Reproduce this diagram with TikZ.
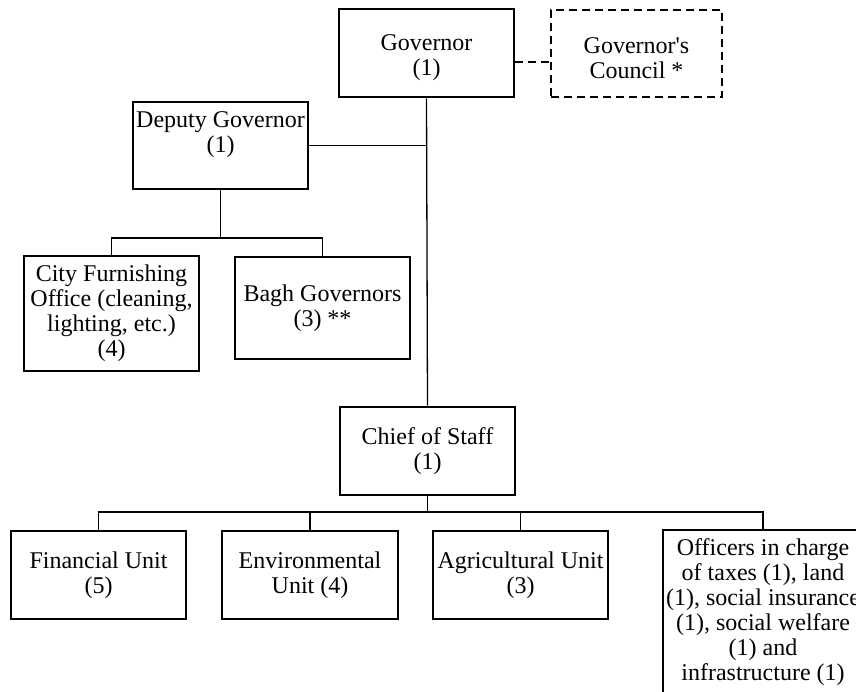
\documentclass[tikz,border=0pt]{standalone}
\usepackage{fontspec}
\setmainfont{Liberation Serif}
\begin{document}
\begin{tikzpicture}[x=1pt,y=-1pt,
  box/.style={draw, line width=2.6pt, minimum width=175pt, minimum height=88pt, inner sep=0pt, align=center, font=\fontsize{24}{25}\selectfont},
  txt/.style={inner sep=0pt, align=center, font=\fontsize{24}{25}\selectfont},
  link/.style={line width=1.3pt},
  dashlink/.style={line width=2pt, dash pattern=on 8pt off 5pt}]
\clip (0,0) rectangle (856,691);
% top
\node[box] (gov) at (426.5,53) {};
\node[txt] (govtxt) at (426.5,58) {Governor\\(1)};
\node[box, dash pattern=on 8pt off 5pt, minimum width=171pt, minimum height=87pt] (council) at (636.5,53.5) {};
\node[txt] (counciltxt) at (636.5,58) {Governor\textquotesingle s\\Council *};
\node[box, minimum height=87pt] (dep) at (220.5,145.5) {};
\node[txt] (deptxt) at (220.5,134.5) {Deputy Governor\\(1)};
\node[box, minimum height=115pt] (city) at (111.5,313.5) {City Furnishing\\Office (cleaning,\\lighting, etc.)\\(4)};
\node[box, minimum height=102pt] (bagh) at (322.5,308) {Bagh Governors\\(3) **};
\node[box] (chief) at (427.5,451) {Chief of Staff\\(1)};
\node[box] (fin) at (98.5,575) {Financial Unit\\(5)};
\node[box, minimum width=176pt] (env) at (310,575) {Environmental\\Unit (4)};
\node[box] (agri) at (520.5,575) {Agricultural Unit\\(3)};
\node[box, minimum width=200pt, minimum height=165pt] (off) at (763,612.5) {Officers in charge\\of taxes (1), land\\(1), social insurance\\(1), social welfare\\(1) and\\infrastructure (1)};
% connectors
\coordinate (dbus) at (221,238);
\coordinate (cbus) at (428,512);
\draw[link] (gov.south) -- (chief.north);
\draw[link] (dep.east) -- (dep.east -| gov.south);
\draw[dashlink] ([yshift=-9pt]gov.east) -- ([yshift=-9pt]gov.east -| council.west);
\draw[link] (dep.south) -- (dep.south |- dbus);
\draw[link] (city.north) -- (city.north |- dbus) -- (bagh.north |- dbus) -- (bagh.north);
\draw[link] (chief.south) -- (chief.south |- cbus);
\draw[link] (fin.north) -- (fin.north |- cbus) -- (off.north |- cbus) -- (off.north);
\draw[link] (env.north) -- (env.north |- cbus);
\draw[link] (agri.north) -- (agri.north |- cbus);
\end{tikzpicture}
\end{document}
